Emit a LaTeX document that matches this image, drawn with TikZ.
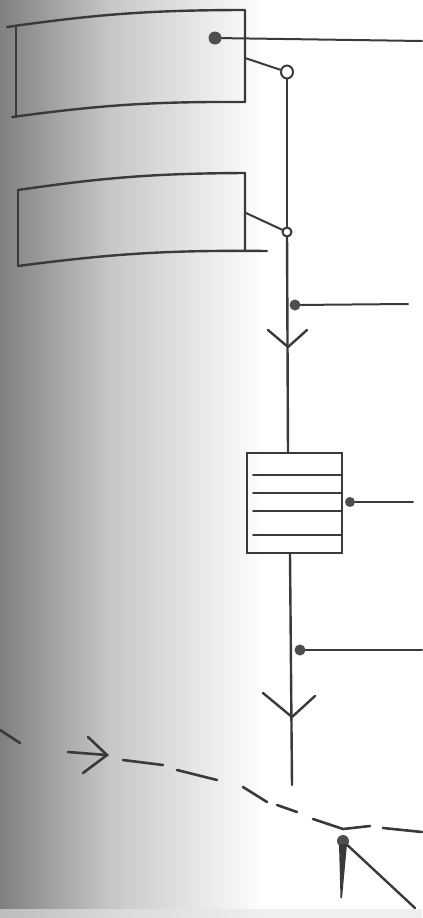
\documentclass[tikz,border=0pt]{standalone}
\usetikzlibrary{calc,shapes.geometric}
\definecolor{ink}{HTML}{3A3A3A}
\begin{document}
\begin{tikzpicture}[x=1bp,y=-1bp,
  inkline/.style={draw=ink,line width=2.4bp,line cap=round,line join=round},
  thinline/.style={draw=ink,line width=2bp,line cap=round},
  fdot/.style={circle,fill=ink!90,inner sep=0pt,minimum size=11bp},
  odot/.style={ellipse,draw=ink,line width=2bp,fill=white,inner sep=0pt,minimum width=12bp,minimum height=13bp},
  odotsm/.style={circle,draw=ink,line width=2bp,fill=white,inner sep=0pt,minimum size=9bp},
  dsh/.style={draw=ink,line width=2.6bp,line cap=round}]
\useasboundingbox (0,0) rectangle (422,918);
% background (photo shading)
\fill[white] (0,0) rectangle (422,918);
\shade[left color=black!50,right color=black!22] (0,0) rectangle (110,918);
\shade[left color=black!22,right color=white] (110,0) rectangle (265,918);
\fill[black!10,opacity=0.6] (0,909) rectangle (422,918);
% ---- box 1
\coordinate (b1tl) at (7,27); \coordinate (b1tr) at (245,10);
\coordinate (b1bl) at (12,117); \coordinate (b1br) at (245,102);
\draw[inkline] (b1tl) to[bend left=4] (b1tr) -- (b1br);
\draw[inkline] (b1bl) to[bend left=4] (b1br);
\draw[inkline] (16,26) -- (16,117);
\coordinate (b1out) at (245,58);
% ---- box 2
\coordinate (b2tl) at (18,190); \coordinate (b2tr) at (245,173);
\coordinate (b2bl) at (18,266); \coordinate (b2br) at (267,251);
\draw[inkline] (b2tl) to[bend left=4] (b2tr) -- (245,251);
\draw[inkline] (b2bl) to[bend left=4] (b2br);
\draw[inkline] (b2tl) -- (b2bl);
\coordinate (b2out) at (246,213);
% ---- dots and circles
\node[fdot,minimum width=10bp,minimum height=13bp] (d1) at (215,38) {};
\coordinate (e1) at (422,41);
\node[odot] (c1) at (287,72) {};
\node[odotsm] (c2) at (287,232) {};
\node[fdot] (d3) at (295,305) {};
\coordinate (e3) at (408,304);
\node[fdot,minimum size=10bp] (d4) at (350,502) {};
\coordinate (e4) at (413,502);
\node[fdot] (d5) at (300,650) {};
\coordinate (e5) at (422,650);
\node[fdot,minimum size=12bp] (d6) at (343,841) {};
\coordinate (e6) at (415,908);
% ---- connectors
\draw[thinline] (d1) -- (e1);
\draw[thinline] (b1out) -- (c1);
\draw[thinline] (b2out) -- (c2);
\draw[inkline] (c1) -- (c2);
\coordinate (hbtop) at (288,453);
\draw[inkline] (c2) -- (hbtop);
\draw[thinline] (d3) -- (e3);
% V arrow 1
\coordinate (v1) at (288,347);
\draw[inkline] (268,330) -- (v1) -- (307,330);
% ---- hatched box
\node[draw=ink,line width=2.4bp,minimum width=95bp,minimum height=100bp,inner sep=0pt] (hb) at (294.5,503) {};
\foreach \yy in {475,493,511,535}{
  \draw[thinline] (253,\yy) -- (342,\yy);
}
\draw[thinline] (d4) -- (e4);
\coordinate (vend) at (292,785);
\draw[inkline] (290,553) -- (vend);
\draw[thinline] (d5) -- (e5);
% V arrow 2
\coordinate (v2) at (292,717);
\draw[inkline] (263,693) -- (v2) -- (315,696);
% ---- dashed path
\draw[dsh] (0,730) -- (20,743);
\coordinate (ah) at (107,755);
\draw[dsh] (68,752) -- (ah);
\draw[dsh] (88,737) -- (ah) -- (83,773);
\draw[dsh] (123,760) -- (163,765);
\draw[dsh] (177,770) -- (217,780);
\draw[dsh] (243,787) -- (267,802);
\draw[dsh] (277,805) -- (297,812);
\draw[dsh] (313,819) -- (343,829) -- (370,826);
\draw[dsh] (383,828) -- (422,832);
% ---- bottom arrow
\draw[inkline] (d6) -- (e6);
\fill[ink] (339,844) -- (347,844) -- (342,898) -- (340.5,898) -- cycle;
\end{tikzpicture}
\end{document}
